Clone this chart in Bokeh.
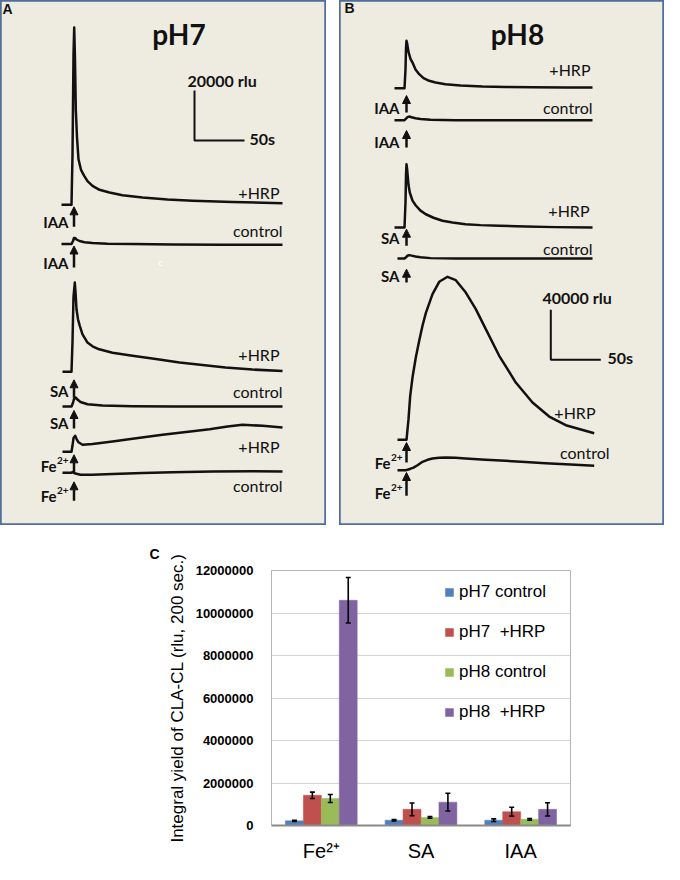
from bokeh.plotting import figure
from bokeh.models import (Range1d, ColumnDataSource, Arrow, NormalHead, FactorRange,
                          Legend, LegendItem, FixedTicker, NumeralTickFormatter, Spacer)
from bokeh.transform import dodge
from bokeh.layouts import column, row
from bokeh.core.properties import value
from bokeh.embed import file_html
from bokeh.resources import INLINE

# ---------------- Panel A (pH7) : time after injection (s), CL above baseline (rlu) ----
PH7_IAA_HRP_T = [-11, -1, 0, 1, 1.7, 2.5, 3.3, 4.5, 6, 8.5, 11.7, 15, 20, 27, 37, 50, 70, 95, 120, 160, 210]
PH7_IAA_HRP = [0, 0, 20000, 60000, 70900, 58000, 38200, 27000, 18200, 14000, 11600, 9500, 7600, 6000, 4900, 3800, 2900, 2100, 1600, 1100, 640]
PH7_IAA_CTL_T = [-11, -1, 0.5, 1.5, 2.5, 4, 7, 12, 20, 35, 60, 100, 150, 210]
PH7_IAA_CTL = [0, 0, 1200, 2400, 2400, 1800, 1200, 700, 400, 100, 0, -200, -300, -300]
PH7_SA_HRP_T = [-10, -1, 0, 1, 2.3, 3, 4, 5.5, 7.3, 10, 15, 20, 26.7, 40, 60, 85, 107, 130, 153, 180, 210]
PH7_SA_HRP = [0, 0, 12000, 30000, 35700, 32000, 25000, 21000, 18400, 15000, 11700, 10200, 9000, 7600, 6400, 5000, 3700, 2700, 1700, 900, 300]
PH7_SA_CTL_T = [-10, -1, 0.5, 1.5, 3, 5, 8, 15, 30, 60, 100, 210]
PH7_SA_CTL = [0, 0, 1500, 3000, 3600, 2800, 1800, 900, 400, 100, 0, 0]
PH7_FE_HRP_T = [-10, -1, 0, 1, 2.7, 4, 6, 10, 20, 40, 60, 90, 120, 137, 155, 170, 190, 210]
PH7_FE_HRP = [0, 0, 2500, 5500, 6400, 5200, 3800, 2800, 3100, 4100, 5200, 6800, 8200, 9000, 10100, 10800, 10400, 9700]
PH7_FE_CTL_T = [-10, -1, 0, 3, 8, 20, 40, 70, 100, 140, 180, 210]
PH7_FE_CTL = [0, 0, 300, -300, -800, -800, -500, -100, 200, 500, 600, 500]

# ---------------- Panel B (pH8) ----------------
PH8_IAA_HRP_T = [-11, -1, 0, 0.5, 1, 1.6, 3, 5, 7, 10, 13.7, 18, 23.7, 30, 40, 55, 77, 100, 127, 160, 187]
PH8_IAA_HRP = [0, 0, 15000, 32000, 37900, 36000, 29000, 23500, 20500, 15000, 11200, 8000, 5900, 4500, 3200, 2200, 1400, 1000, 800, 650, 560]
PH8_IAA_CTL_T = [-11, -1, 0.5, 2, 3.7, 6, 10, 15, 25, 50, 187]
PH8_IAA_CTL = [0, 0, 1200, 2400, 2900, 2400, 1600, 1000, 400, 0, 0]
PH8_SA_HRP_T = [-11, -1, 0, 0.5, 1, 1.7, 3, 4.3, 7, 10.3, 15, 20.3, 28, 37, 47, 60, 75, 93.7, 120, 150, 187]
PH8_SA_HRP = [0, 0, 20000, 42000, 50600, 46000, 34000, 28000, 21500, 17600, 13500, 10600, 7800, 5400, 4000, 2600, 1900, 1400, 800, 300, 0]
PH8_SA_CTL_T = [-8, -1, 0.5, 2, 3.7, 6, 10, 15, 25, 50, 187]
PH8_SA_CTL = [0, 0, 1000, 2200, 2700, 2300, 1600, 1000, 300, 0, 0]
PH8_FE_HRP_T = [-8, 1, 3, 4.7, 7, 10.3, 13.7, 17, 20.3, 27, 33.7, 42, 50.3, 60.3, 70.3, 80.3, 93.7, 110.3, 127, 143.7, 160.3, 188.7]
PH8_FE_HRP = [0, 0, 16500, 35200, 49800, 65800, 79200, 91200, 101300, 116500, 126400, 130400, 127700, 117800, 104500, 88500, 67200, 45800, 29800, 18600, 11700, 5300]
PH8_FE_CTL_T = [-8, 0, 2, 5, 8, 12, 17, 22, 27, 33.7, 40, 50, 60, 80, 100, 120, 140, 165, 188.7]
PH8_FE_CTL = [0, 0, 400, 1200, 2100, 4000, 6700, 8300, 9400, 10000, 10100, 9900, 9400, 8400, 7500, 6500, 5600, 4500, 3500]

# scale bars
SCALE_A_RLU = 20000
SCALE_B_RLU = 40000
SCALE_S = 50

# ---------------- Panel C (integral yields) ----------------
CATEGORIES = ["Fe²⁺", "SA", "IAA"]
SERIES = ["pH7 control", "pH7  +HRP", "pH8 control", "pH8  +HRP"]
PH7_CONTROL = [220000, 250000, 250000]
PH7_CONTROL_ERR = [30000, 30000, 60000]
PH7_HRP = [1420000, 760000, 650000]
PH7_HRP_ERR = [150000, 300000, 210000]
PH8_CONTROL = [1270000, 380000, 290000]
PH8_CONTROL_ERR = [190000, 40000, 40000]
PH8_HRP = [10600000, 1100000, 760000]
PH8_HRP_ERR = [1070000, 420000, 310000]
Y_TICKS = [0, 2000000, 4000000, 6000000, 8000000, 10000000, 12000000]

# ---------------- styling / layout ----------------
BG = "#eeebe1"
BORDER = "#4f6f9a"
INK = "#111111"
PANEL_FONT = "Lato"
CHART_FONT = "Liberation Sans"
COLORS = ["#4f81bd", "#c0504d", "#9bbb59", "#8064a2"]

RPP_A = 400   # rlu per screen pixel in panel A
RPP_B = 800   # rlu per screen pixel in panel B
LANES_A = [128280, 112600, 61480, 47600, 29480, 21080]
LANES_B = [349840, 324240, 238400, 213600, 68560, 44240]


def make_panel(width, x0, rpp, traces, lanes, letter, letter_xy, title, title_xy,
               right_labels, agent_labels, arrows, scale, scale_rlu, extra=None):
    p = figure(width=width, height=525, x_range=Range1d(x0, x0 + width),
               y_range=Range1d(0, 525 * rpp), output_backend="svg", toolbar_location=None,
               x_axis_type=None, y_axis_type=None, min_border=0,
               background_fill_color=BG, border_fill_color=BG,
               outline_line_color=BORDER, outline_line_width=2.5)
    p.grid.visible = False
    for (ts, vs), lane in zip(traces, lanes):
        p.line(ts, [lane + v for v in vs], line_width=2.5, line_color=INK, line_join="round")

    def ty(lane_i, dy):
        return lanes[lane_i] - dy * rpp

    p.text([letter_xy[0]], [letter_xy[1]], text=[letter], text_font=value(CHART_FONT),
           text_font_style="bold", text_font_size="14px", text_baseline="middle",
           text_align="left", text_color=INK)
    p.text([title_xy[0]], [title_xy[1]], text=[title], text_font=value(PANEL_FONT),
           text_font_style="bold", text_font_size="28px", text_baseline="alphabetic",
           text_align="center", text_color=INK)
    for txt, t, li, dy in right_labels:
        p.text([t], [ty(li, dy)], text=[txt], text_font=value(PANEL_FONT),
               text_font_size="16px", text_baseline="middle", text_align="right", text_color=INK)
    for txt, t, li, dy in agent_labels:
        if txt == "Fe":
            p.text([t - 12], [ty(li, dy)], text=["Fe"], text_font=value(PANEL_FONT),
                   text_font_style="bold", text_font_size="15px", text_baseline="middle",
                   text_align="right", text_color=INK)
            p.text([t], [ty(li, dy - 5.5)], text=["2+"], text_font=value(PANEL_FONT),
                   text_font_style="bold", text_font_size="10px", text_baseline="middle",
                   text_align="right", text_color=INK)
        else:
            p.text([t], [ty(li, dy)], text=[txt], text_font=value(PANEL_FONT),
                   text_font_style="bold", text_font_size="15px", text_baseline="middle",
                   text_align="right", text_color=INK)
    for t, li, tip, tail in arrows:
        p.add_layout(Arrow(end=NormalHead(size=8, fill_color=INK, line_color=INK, line_width=1),
                           x_start=t, y_start=ty(li, tail), x_end=t, y_end=ty(li, tip),
                           line_width=2.5, line_color=INK))
    # scale bar
    sx, sy, lab_xy, s_xy = scale
    p.line([sx, sx, sx + SCALE_S], [sy + scale_rlu, sy, sy], line_width=2, line_color=INK)
    p.text([lab_xy[0]], [lab_xy[1]], text=[f"{scale_rlu} rlu"], text_font=value(PANEL_FONT),
           text_font_style="bold", text_font_size="16px", text_baseline="middle",
           text_align="left", text_color=INK)
    p.text([s_xy[0]], [s_xy[1]], text=[f"{SCALE_S}s"], text_font=value(PANEL_FONT),
           text_font_style="bold", text_font_size="16px", text_baseline="middle",
           text_align="left", text_color=INK)
    if extra:
        extra(p)
    return p


A_RIGHT = [("+HRP", 207, 0, -12.3), ("control", 210, 1, -14), ("+HRP", 207, 2, -17.6),
           ("control", 210, 3, -15), ("+HRP", 207, 4, -5.3), ("control", 210, 5, 12.4)]
A_AGENT = [("IAA", -4, 0, 17), ("IAA", -4, 1, 18.5), ("SA", -4, 2, 18.7),
           ("SA", -4, 3, 16), ("Fe", -4, 4, 14.4), ("Fe", -4, 5, 23.2)]
A_ARROWS = [(1.5, 0, 2, 22), (1.5, 1, 2, 23.5), (1.5, 2, 8, 26), (1.5, 3, 4, 22),
            (1.5, 4, 3, 21), (1.5, 5, 9, 28)]

B_RIGHT = [("+HRP", 185, 0, -18.4), ("control", 187, 1, -12.7), ("+HRP", 184, 2, -16.7),
           ("control", 187, 3, -10), ("+HRP", 190, 4, -27), ("control", 204, 5, -17.7)]
B_AGENT = [("IAA", -6, 0, 19.3), ("IAA", -6, 1, 21.6), ("SA", -6, 2, 10),
           ("SA", -6, 3, 17.3), ("Fe", -3, 4, 23), ("Fe", -3, 5, 22.6)]
B_ARROWS = [(1, 0, 7.3, 24.3), (1, 1, 10.3, 27.3), (1, 2, 1.7, 18.3), (1, 3, 10.7, 24),
            (1, 4, 2.7, 22.7), (1, 5, 2.3, 25.6)]


def stray_c(p):
    p.text([88], [105200], text=["c"], text_font=value(PANEL_FONT), text_font_size="9px",
           text_color="white", text_baseline="middle", text_align="center")


pA = make_panel(
    326, -72, RPP_A,
    [(PH7_IAA_HRP_T, PH7_IAA_HRP), (PH7_IAA_CTL_T, PH7_IAA_CTL), (PH7_SA_HRP_T, PH7_SA_HRP),
     (PH7_SA_CTL_T, PH7_SA_CTL), (PH7_FE_HRP_T, PH7_FE_HRP), (PH7_FE_CTL_T, PH7_FE_CTL)],
    LANES_A, "A", (-70, 206800), "pH7", (106.5, 196520),
    A_RIGHT, A_AGENT, A_ARROWS,
    (122, 154000, (115, 178000), (177, 154800)), SCALE_A_RLU, extra=stray_c)

pB = make_panel(
    325, -66, RPP_B,
    [(PH8_IAA_HRP_T, PH8_IAA_HRP), (PH8_IAA_CTL_T, PH8_IAA_CTL), (PH8_SA_HRP_T, PH8_SA_HRP),
     (PH8_SA_CTL_T, PH8_SA_CTL), (PH8_FE_HRP_T, PH8_FE_HRP), (PH8_FE_CTL_T, PH8_FE_CTL)],
    LANES_B, "B", (-61, 414400), "pH8", (112, 393040),
    B_RIGHT, B_AGENT, B_ARROWS,
    (145.3, 132560, (137, 182400), (202, 134400)), SCALE_B_RLU)

# ---------------- Panel C ----------------
vals = [PH7_CONTROL, PH7_HRP, PH8_CONTROL, PH8_HRP]
errs = [PH7_CONTROL_ERR, PH7_HRP_ERR, PH8_CONTROL_ERR, PH8_HRP_ERR]
data = dict(cat=CATEGORIES)
for i, (v, e) in enumerate(zip(vals, errs)):
    data[f"s{i}"] = v
    data[f"s{i}_lo"] = [a - b for a, b in zip(v, e)]
    data[f"s{i}_hi"] = [a + b for a, b in zip(v, e)]
src = ColumnDataSource(data)

pC = figure(width=664, height=339, x_range=FactorRange(factors=CATEGORIES, range_padding=0),
            y_range=Range1d(0, 12000000), output_backend="svg", toolbar_location=None,
            min_border_left=271, min_border_right=94, min_border_top=45, min_border_bottom=32,
            outline_line_color="#b5b5b5", outline_line_width=1, title="C")
pC.title.align = "left"
pC.title.offset = -122
pC.title.standoff = 18
pC.title.text_font = CHART_FONT
pC.title.text_font_style = "bold"
pC.title.text_font_size = "14px"
pC.title.text_color = "black"

OFFSETS = [-0.27, -0.09, 0.09, 0.27]
items = []
for i, off in enumerate(OFFSETS):
    r = pC.vbar(x=dodge("cat", off, range=pC.x_range), top=f"s{i}", width=0.18, source=src,
                fill_color=COLORS[i], line_color=COLORS[i], line_width=0.5)
    items.append(LegendItem(label=SERIES[i], renderers=[r]))
    pC.segment(x0=dodge("cat", off, range=pC.x_range), x1=dodge("cat", off, range=pC.x_range),
               y0=f"s{i}_lo", y1=f"s{i}_hi", source=src, line_color="black", line_width=1.6)
    for end in ("lo", "hi"):
        pC.segment(x0=dodge("cat", off - 0.025, range=pC.x_range),
                   x1=dodge("cat", off + 0.025, range=pC.x_range),
                   y0=f"s{i}_{end}", y1=f"s{i}_{end}", source=src, line_color="black",
                   line_width=1.6)

legend = Legend(items=items, location=(173, 103), padding=0, margin=0, spacing=20,
                label_height=20, glyph_height=10, glyph_width=10, label_standoff=5,
                border_line_color=None, background_fill_alpha=0,
                label_text_font=CHART_FONT, label_text_font_size="17px", label_text_color="black")
pC.add_layout(legend)

pC.xgrid.visible = False
pC.ygrid.ticker = FixedTicker(ticks=Y_TICKS)
pC.ygrid.grid_line_color = "#d4d4d4"
pC.yaxis.ticker = FixedTicker(ticks=Y_TICKS)
pC.yaxis.formatter = NumeralTickFormatter(format="0")
pC.yaxis.major_label_text_font = CHART_FONT
pC.yaxis.major_label_text_font_style = "bold"
pC.yaxis.major_label_text_font_size = "13px"
pC.yaxis.major_label_text_color = "black"
pC.yaxis.major_label_standoff = 12
pC.yaxis.major_tick_line_color = None
pC.yaxis.minor_tick_line_color = None
pC.yaxis.axis_line_color = "#b5b5b5"
pC.yaxis.axis_label = "Integral yield of CLA-CL (rlu, 200 sec.)"
pC.yaxis.axis_label_text_font = CHART_FONT
pC.yaxis.axis_label_text_font_style = "normal"
pC.yaxis.axis_label_text_font_size = "17px"
pC.yaxis.axis_label_text_color = "black"
pC.yaxis.axis_label_standoff = 6
pC.xaxis.major_label_text_font = CHART_FONT
pC.xaxis.major_label_text_font_size = "20px"
pC.xaxis.major_label_text_color = "black"
pC.xaxis.major_label_standoff = 8
pC.xaxis.major_tick_line_color = None
pC.xaxis.minor_tick_line_color = None
pC.xaxis.axis_line_color = "#8a8a8a"
pC.xaxis.axis_line_width = 2

layout = column(row(pA, Spacer(width=13, height=525), pB), pC)
open("out.html", "w").write(file_html(layout, INLINE))
